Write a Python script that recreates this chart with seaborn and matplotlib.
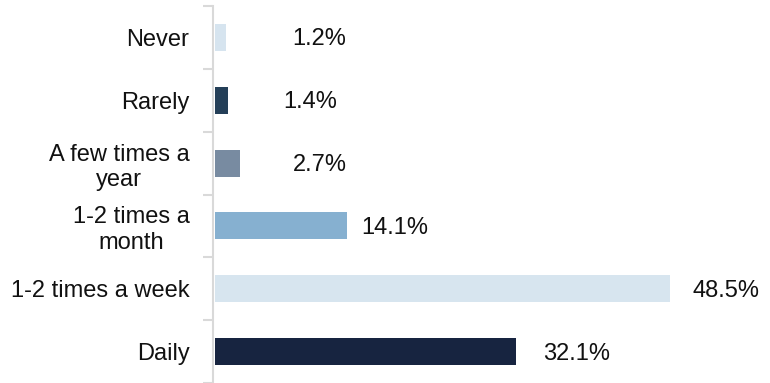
import matplotlib
matplotlib.use("Agg")
import matplotlib.pyplot as plt
import seaborn as sns
import pandas as pd
import numpy as np

categories = ["Never", "Rarely", "A few times a\nyear", "1-2 times a\nmonth",
              "1-2 times a week", "Daily"]
values = [1.2, 1.4, 2.7, 14.1, 48.5, 32.1]
value_labels = ["1.2%", "1.4%", "2.7%", "14.1%", "48.5%", "32.1%"]
bar_colors = ["#d6e4ef", "#243f58", "#788ba1", "#86b0d0", "#d7e5ef", "#172440"]
# horizontal gap (pixels) between each bar end and its value label
label_gap_px = [66, 55, 53, 14, 23, 27]

sns.set_theme(style="white")
plt.rcParams["font.family"] = ["Liberation Sans", "DejaVu Sans"]

df = pd.DataFrame({"category": categories, "value": values})

fig = plt.figure(figsize=(7.7, 3.83), dpi=100)
ax = fig.add_axes([213 / 770, 0.0, 547 / 770, 1 - 6 / 383])

sns.barplot(data=df, x="value", y="category", hue="category",
            palette=bar_colors, order=categories, hue_order=categories,
            width=0.43, legend=False, ax=ax, saturation=1, linewidth=0)

ax.set_xlim(-0.21, 58.1)
ax.set_ylim(len(categories) - 0.5, -0.5)

for i, (v, lab, gap) in enumerate(zip(values, value_labels, label_gap_px)):
    ax.annotate(lab, xy=(v, i), xytext=(gap, -2), textcoords="offset pixels",
                ha="left", va="center", fontsize=17, color="#111111")

ax.set_xlabel("")
ax.set_ylabel("")
ax.set_xticks([])
ax.set_yticks(np.arange(len(categories)))
ax.set_yticklabels(categories, fontsize=17, color="#111111", multialignment="center")
ax.tick_params(axis="y", which="major", left=True, length=0, pad=17)
ax.set_yticks(np.arange(len(categories) + 1) - 0.5, minor=True)
ax.tick_params(axis="y", which="minor", left=True, length=7, width=1.5,
               color="#d9d9d9")

for side in ["top", "right", "bottom"]:
    ax.spines[side].set_visible(False)
ax.spines["left"].set_color("#d9d9d9")
ax.spines["left"].set_linewidth(1.5)

fig.savefig("out.png", dpi=100)
